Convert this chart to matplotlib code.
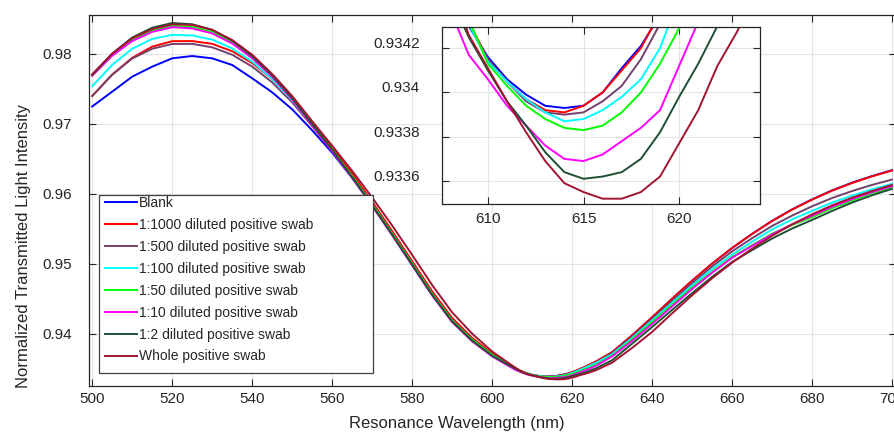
"""
Espectros de transmisión normalizada para diluciones de hisopo positivo,
con ampliación de la zona del mínimo de resonancia.
"""

import matplotlib
matplotlib.use("Agg")
import matplotlib.pyplot as plt
from matplotlib.patches import Rectangle
from matplotlib.ticker import FormatStrFormatter

plt.rcParams["font.family"] = ["Liberation Sans", "DejaVu Sans"]

# ── Datos ─────────────────────────────────────────────────────────────────────
longitud_onda = list(range(500, 606, 5)) + list(range(606, 627)) + list(range(630, 701, 5))

blank = [0.97250, 0.97462, 0.97676, 0.97819, 0.97938, 0.97971, 0.97938, 0.97843, 0.97653, 0.97453,
         0.97210, 0.96910, 0.96590, 0.96230, 0.95840, 0.95430, 0.95000, 0.94570, 0.94190, 0.93915,
         0.93700, 0.93530,
         0.93500, 0.93472, 0.93449, 0.93430, 0.93416, 0.93406, 0.93399, 0.93394, 0.93393, 0.93394,
         0.93400, 0.93411, 0.93421, 0.93435, 0.93452, 0.93474, 0.93498, 0.93523, 0.93550, 0.93578,
         0.93606,
         0.93738, 0.93979, 0.94237, 0.94502, 0.94760, 0.95003, 0.95227, 0.95430, 0.95616, 0.95780,
         0.95923, 0.96051, 0.96161, 0.96256, 0.96340]

dil_1000 = [0.97400, 0.97705, 0.97945, 0.98105, 0.98183, 0.98185, 0.98145, 0.98040, 0.97870, 0.97645,
            0.97360, 0.97020, 0.96660, 0.96290, 0.95890, 0.95470, 0.95040, 0.94610, 0.94230, 0.93945,
            0.93720, 0.93540,
            0.93505, 0.93475, 0.93450, 0.93432, 0.93415, 0.93405, 0.93397, 0.93392, 0.93391, 0.93394,
            0.93400, 0.93410, 0.93420, 0.93436, 0.93456, 0.93478, 0.93502, 0.93527, 0.93553, 0.93580,
            0.93608,
            0.93740, 0.93981, 0.94239, 0.94504, 0.94762, 0.95005, 0.95228, 0.95428, 0.95613, 0.95776,
            0.95919, 0.96047, 0.96157, 0.96252, 0.96335]

dil_500 = [0.97400, 0.97705, 0.97935, 0.98075, 0.98143, 0.98145, 0.98095, 0.97990, 0.97820, 0.97595,
           0.97310, 0.96970, 0.96620, 0.96250, 0.95850, 0.95430, 0.95000, 0.94570, 0.94190, 0.93915,
           0.93700, 0.93530,
           0.93500, 0.93472, 0.93449, 0.93431, 0.93415, 0.93405, 0.93396, 0.93391, 0.93390, 0.93391,
           0.93396, 0.93403, 0.93415, 0.93431, 0.93446, 0.93466, 0.93488, 0.93512, 0.93537, 0.93563,
           0.93590,
           0.93725, 0.93961, 0.94215, 0.94474, 0.94726, 0.94963, 0.95180, 0.95368, 0.95543, 0.95691,
           0.95824, 0.95942, 0.96042, 0.96130, 0.96206]

dil_100 = [0.97540, 0.97845, 0.98075, 0.98215, 0.98273, 0.98265, 0.98205, 0.98080, 0.97890, 0.97645,
           0.97340, 0.96990, 0.96630, 0.96250, 0.95850, 0.95430, 0.95000, 0.94570, 0.94190, 0.93915,
           0.93700, 0.93530,
           0.93500, 0.93472, 0.93449, 0.93431, 0.93414, 0.93405, 0.93397, 0.93391, 0.93387, 0.93388,
           0.93392, 0.93398, 0.93406, 0.93420, 0.93443, 0.93465, 0.93488, 0.93512, 0.93537, 0.93562,
           0.93588,
           0.93710, 0.93941, 0.94191, 0.94444, 0.94692, 0.94925, 0.95133, 0.95318, 0.95493, 0.95636,
           0.95759, 0.95877, 0.95977, 0.96067, 0.96145]

dil_50 = [0.97700, 0.97985, 0.98205, 0.98335, 0.98403, 0.98385, 0.98315, 0.98170, 0.97960, 0.97695,
          0.97370, 0.97000, 0.96630, 0.96250, 0.95850, 0.95430, 0.95000, 0.94570, 0.94190, 0.93915,
          0.93700, 0.93530,
          0.93501, 0.93473, 0.93451, 0.93433, 0.93413, 0.93403, 0.93394, 0.93388, 0.93384, 0.93383,
          0.93385, 0.93391, 0.93400, 0.93413, 0.93429, 0.93446, 0.93466, 0.93488, 0.93511, 0.93535,
          0.93560,
          0.93690, 0.93921, 0.94169, 0.94414, 0.94662, 0.94885, 0.95098, 0.95268, 0.95433, 0.95556,
          0.95669, 0.95797, 0.95907, 0.96012, 0.96097]

dil_10 = [0.97690, 0.97975, 0.98185, 0.98315, 0.98383, 0.98365, 0.98295, 0.98150, 0.97940, 0.97675,
          0.97350, 0.96980, 0.96610, 0.96230, 0.95830, 0.95410, 0.94980, 0.94550, 0.94170, 0.93895,
          0.93680, 0.93515,
          0.93483, 0.93459, 0.93438, 0.93417, 0.93406, 0.93394, 0.93385, 0.93376, 0.93370, 0.93369,
          0.93372, 0.93378, 0.93384, 0.93392, 0.93412, 0.93432, 0.93452, 0.93474, 0.93497, 0.93521,
          0.93546,
          0.93680, 0.93901, 0.94144, 0.94394, 0.94642, 0.94875, 0.95088, 0.95258, 0.95423, 0.95566,
          0.95689, 0.95817, 0.95927, 0.96027, 0.96111]

dil_2 = [0.97700, 0.98005, 0.98235, 0.98375, 0.98443, 0.98425, 0.98345, 0.98190, 0.97970, 0.97695,
         0.97370, 0.97000, 0.96630, 0.96240, 0.95840, 0.95420, 0.94990, 0.94560, 0.94180, 0.93905,
         0.93690, 0.93530,
         0.93498, 0.93469, 0.93444, 0.93425, 0.93410, 0.93396, 0.93385, 0.93373, 0.93364, 0.93361,
         0.93362, 0.93364, 0.93370, 0.93382, 0.93398, 0.93413, 0.93430, 0.93448, 0.93467, 0.93488,
         0.93510,
         0.93625, 0.93861, 0.94099, 0.94344, 0.94582, 0.94815, 0.95028, 0.95198, 0.95363, 0.95506,
         0.95629, 0.95757, 0.95877, 0.95982, 0.96073]

entero = [0.97710, 0.98005, 0.98225, 0.98355, 0.98423, 0.98415, 0.98345, 0.98200, 0.97990, 0.97715,
          0.97400, 0.97040, 0.96690, 0.96330, 0.95950, 0.95550, 0.95130, 0.94700, 0.94310, 0.94005,
          0.93750, 0.93550,
          0.93512, 0.93478, 0.93450, 0.93426, 0.93411, 0.93396, 0.93382, 0.93369, 0.93359, 0.93355,
          0.93352, 0.93352, 0.93355, 0.93362, 0.93377, 0.93392, 0.93412, 0.93427, 0.93444, 0.93463,
          0.93483,
          0.93590, 0.93801, 0.94029, 0.94294, 0.94552, 0.94795, 0.95018, 0.95218, 0.95403, 0.95566,
          0.95709, 0.95837, 0.95947, 0.96042, 0.96130]

series = [blank, dil_1000, dil_500, dil_100, dil_50, dil_10, dil_2, entero]
etiquetas = ["Blank", "1:1000 diluted positive swab", "1:500 diluted positive swab",
             "1:100 diluted positive swab", "1:50 diluted positive swab",
             "1:10 diluted positive swab", "1:2 diluted positive swab", "Whole positive swab"]
colores = ["#0000ff", "#ff0000", "#74406e", "#00ffff", "#00ff00", "#ff00ff", "#1e5034", "#a2142f"]

ticks_x = [500, 520, 540, 560, 580, 600, 620, 640, 660, 680, 700]
ticks_y = [0.94, 0.95, 0.96, 0.97, 0.98]
ticks_x_zoom = [610, 615, 620]
ticks_y_zoom = [0.9336, 0.9338, 0.934, 0.9342]

# ── Estilo ────────────────────────────────────────────────────────────────────
TEXTO = "#262626"
REJILLA = "#e3e3e3"
LW = 1.4
W, H = 894, 432


def caja_px(x0, y0, x1, y1):
    """Caja en píxeles (origen arriba-izquierda) -> rect en fracción de figura."""
    return [x0 / W, 1 - y1 / H, (x1 - x0) / W, (y1 - y0) / H]


def estilo_ejes(ax, pad_x, pad_y):
    ax.tick_params(direction="in", top=True, right=True, length=5, width=0.8,
                   colors=TEXTO, labelsize=11)
    ax.tick_params(axis="x", pad=pad_x)
    ax.tick_params(axis="y", pad=pad_y)
    ax.grid(True, color=REJILLA, lw=0.8)
    ax.set_axisbelow(True)
    for sp in ax.spines.values():
        sp.set_color(TEXTO)
        sp.set_linewidth(0.9)
    ax.yaxis.set_major_formatter(FormatStrFormatter("%g"))


fig = plt.figure(figsize=(W / 100, H / 100), dpi=100)

# ═══ Gráfica principal ════════════════════════════════════════════════════════
ax = fig.add_axes(caja_px(89, 15, 896, 386))
for y, lab, col in zip(series, etiquetas, colores):
    ax.plot(longitud_onda, y, color=col, lw=LW, label=lab)

ax.set_xlim(499.2, 701)
ax.set_ylim(0.93257, 0.98557)
ax.set_xticks(ticks_x)
ax.set_yticks(ticks_y)
estilo_ejes(ax, pad_x=4, pad_y=12)

ax.set_xlabel("Resonance Wavelength (nm)", fontsize=12, color=TEXTO)
ax.set_ylabel("Normalized Transmitted Light Intensity", fontsize=12, color=TEXTO)
ax.xaxis.set_label_coords((457 - 89) / 807, (386 - 416) / 371)
ax.yaxis.set_label_coords((31 - 89) / 807, (386 - 246) / 371)

# Leyenda con caja ancha (marco dibujado aparte)
caja = Rectangle((99 / W, 1 - 373 / H), (373 - 99) / W, (373 - 195) / H,
                 transform=fig.transFigure, facecolor="white", edgecolor="#404040",
                 lw=0.9, zorder=4, clip_on=False)
ax.add_patch(caja)
ax.legend(loc="upper left", bbox_to_anchor=(105 / W, 1 - 196 / H),
          bbox_transform=fig.transFigure, frameon=False, fontsize=10,
          borderpad=0, borderaxespad=0, handlelength=2.3, handletextpad=0.15,
          labelspacing=0.57, labelcolor=TEXTO)

# ═══ Ampliación del mínimo ════════════════════════════════════════════════════
axz = fig.add_axes(caja_px(442, 27, 760, 204))
axz.set_facecolor("white")
for y, col in zip(series, colores):
    axz.plot(longitud_onda, y, color=col, lw=LW)

axz.set_xlim(607.6, 624.23)
axz.set_ylim(0.933496, 0.934296)
axz.set_xticks(ticks_x_zoom)
axz.set_yticks(ticks_y_zoom)
estilo_ejes(axz, pad_x=6, pad_y=16)
for etq in axz.get_yticklabels():
    etq.set_verticalalignment("baseline")

fig.savefig("out.png", dpi=100)
plt.close(fig)
